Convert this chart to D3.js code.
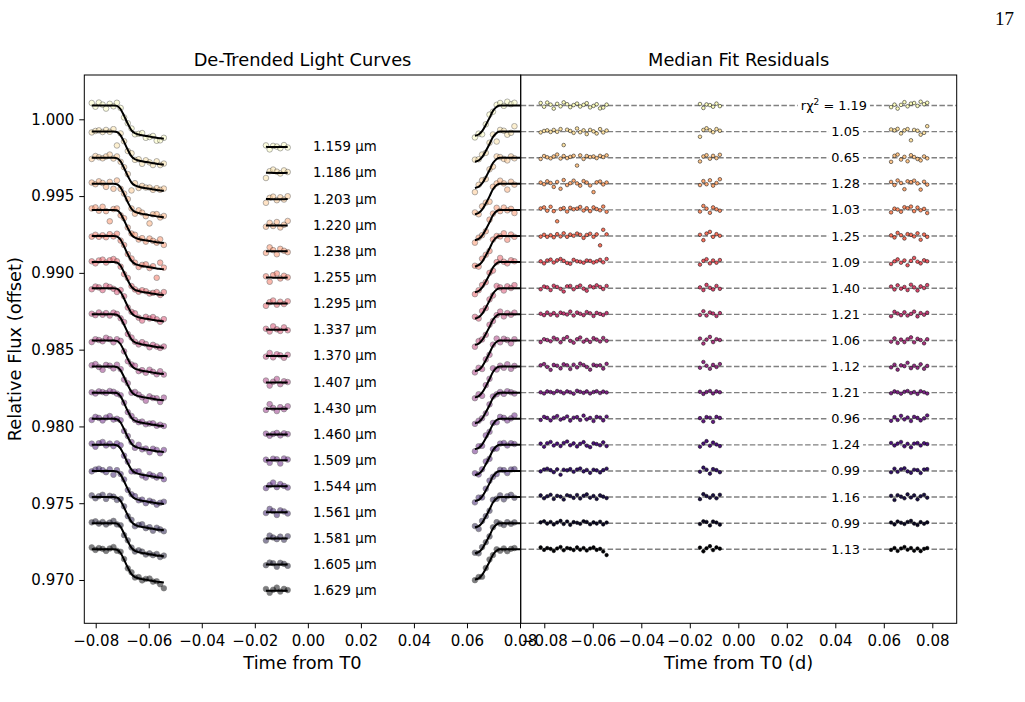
<!DOCTYPE html>
<html><head><meta charset="utf-8">
<script src="https://cdn.jsdelivr.net/npm/d3@7"></script>
<style>
body{margin:0;background:#fff}
svg text{fill:#000}
</style></head>
<body><svg id="chart" width="1025" height="702" font-family="DejaVu Sans"></svg>
<script>
// ---------------- data ----------------
const wavelengths = [1.159,1.186,1.203,1.220,1.238,1.255,1.295,1.337,1.370,1.407,1.430,1.460,1.509,1.544,1.561,1.581,1.605,1.629];
const redChi2 = [1.19,1.05,0.65,1.28,1.03,1.25,1.09,1.40,1.21,1.06,1.12,1.21,0.96,1.24,0.99,1.16,0.99,1.13];
const baselines = [1.00090,0.99920,0.99750,0.99580,0.99410,0.99240,0.99070,0.98900,0.98730,0.98560,0.98390,0.98220,0.98050,0.97880,0.97710,0.97540,0.97370,0.97200];
const depthsPpm = [2700,2690,2700,2720,2700,2710,2690,2700,2720,2740,2750,2730,2710,2700,2690,2700,2690,2700];

const timesIngress = [-0.0815,-0.0801,-0.0788,-0.0774,-0.0761,-0.0747,-0.0733,-0.0720,-0.0706,-0.0693,-0.0679,-0.0665,-0.0652,-0.0638,-0.0625,-0.0611,-0.0597,-0.0584,-0.0570,-0.0557,-0.0543];
const timesMid = [-0.0158,-0.0144,-0.0131,-0.0117,-0.0104,-0.0090,-0.0076];
const timesEgress = [0.0630,0.0644,0.0657,0.0671,0.0685,0.0698,0.0712,0.0725,0.0739,0.0752,0.0766,0.0779];

// transit model (fraction of depth) evaluated at the data times
const modelIngress = [0,0,0,0,0,0,0,0.01,0.09,0.25,0.44,0.60,0.67,0.70,0.72,0.735,0.75,0.765,0.78,0.79,0.80];
const modelMid = [0.998,0.999,1,1,1,1,0.999];
const modelEgress = [0.73,0.70,0.62,0.47,0.30,0.13,0.03,0,0,0,0,0];
const modelEgressEnd = [0.0810, 0];

// residuals (read in units of ~1.35 ppm): 21 ingress, 7 mid, 12 egress
const res1159 = [120,-60,140,40,-150,80,-40,150,60,-80,20,90,-50,30,110,-90,-20,60,-140,-100,40, 70,-120,50,20,-60,90,-30, -80,40,-150,30,160,-40,90,120,-20,180,60,130];
const res1186 = [-40,30,60,-20,80,-10,120,-650,90,30,-60,150,-30,60,-120,80,10,-90,120,-40,50, -250,80,160,60,-30,120,40, 100,60,130,-90,60,120,-420,80,40,-150,-60,260];
const res1203 = [-60,80,20,-30,60,150,-40,80,-20,40,90,-380,110,-60,80,30,60,-20,90,30,110, -180,60,120,-50,90,-20,140, -200,90,150,-90,40,-170,120,30,-60,-130,60,-30];
const res1220 = [60,-20,120,40,-150,90,-240,180,-60,30,150,20,-90,130,60,-80,-400,70,110,-30,60, -60,130,-20,170,-90,40,220, 90,-60,160,40,-260,120,80,150,20,-280,100,-40];
const res1238 = [70,120,-40,150,-60,-550,40,90,-80,100,30,60,140,-30,80,-60,120,40,-20,160,-90, -80,190,60,-140,120,30,-40, -120,60,20,-90,130,80,160,-60,110,-20,50,-150];
const res1255 = [-30,60,-40,40,-60,90,-20,130,-40,70,10,120,60,-90,50,110,-40,80,-450,300,80, 60,-200,120,200,-40,90,10, 30,-70,150,40,-120,90,60,-20,130,-180,70,-40];
const res1295 = [40,-60,80,120,-20,90,150,60,-40,-80,110,40,20,-30,80,60,-20,40,110,-10,150, -120,60,140,-60,80,-30,100, -90,40,130,-30,80,-150,60,200,20,-60,90,40];
const res1337 = [-50,80,40,-90,120,60,-30,-160,90,110,-50,60,130,-20,-120,90,40,140,60,-40,110, 40,-90,160,20,-60,110,-30, 80,-60,140,-20,60,-90,170,40,-110,90,10,150];
const res1370 = [30,-40,90,-20,60,-60,80,40,-10,130,-60,90,30,-40,110,50,-80,70,20,-30,60, -30,150,-60,90,40,-80,60, -90,120,40,-40,100,-60,20,130,-100,60,-20,80];
const res1407 = [-80,60,20,-40,130,60,-90,80,160,-20,-110,60,140,-60,30,-70,110,40,-50,120,-20, 90,-150,40,170,-80,60,20, -60,100,-120,40,-80,60,150,-90,80,20,-140,60];
const res1430 = [60,120,-20,-160,80,40,-90,110,60,-120,90,-40,140,70,-20,-150,90,40,60,-100,130, -60,220,40,-110,80,-20,120, -40,90,-150,60,20,180,-80,40,-60,110,-110,30];
const res1460 = [20,-40,60,30,-20,80,40,-30,60,20,-50,90,40,-10,60,-40,30,70,-20,50,10, 40,-60,30,80,-40,60,20, -30,60,20,-50,40,80,-20,30,-60,70,20,-40];
const res1509 = [-60,90,40,-80,60,130,-40,20,110,-90,50,80,-60,150,-30,40,-110,90,60,-80,100, 30,-120,80,50,-150,90,40, -100,80,-60,140,-30,60,-110,90,40,-80,20,160];
const res1544 = [60,-90,80,140,-30,60,-60,90,160,-20,70,-80,50,130,-40,-110,80,40,-20,120,-60, -90,60,180,-40,110,20,-60, 90,-30,60,140,-70,50,-120,60,90,-30,80,40];
const res1561 = [-20,70,110,40,-60,80,-180,60,30,90,-40,70,120,-20,50,-90,60,30,-70,40,110, -40,160,60,-130,90,40,-60, -60,110,-40,80,130,-20,-90,60,40,-100,70,90];
const res1581 = [80,-60,40,110,-90,60,20,-120,90,50,-40,100,-70,60,130,-30,50,-90,80,20,-50, -100,140,50,-30,90,-60,110, 60,-140,90,20,-60,130,-20,80,-110,40,110,-30];
const res1605 = [40,90,-20,60,-60,30,110,-40,80,-80,50,20,-30,90,60,-50,40,-20,70,-60,30, -40,90,60,-110,80,30,-70, 30,-60,80,20,-40,60,110,-20,-90,50,-30,40];
const res1629 = [90,-30,60,20,-80,40,110,-50,60,30,-40,90,-20,60,-60,40,90,-30,20,-110,-280, 80,-100,50,150,-40,90,30, -30,60,-80,40,110,-20,60,-70,40,-90,20,60];
const residualsRaw = [res1159,res1186,res1203,res1220,res1238,res1255,res1295,res1337,res1370,res1407,res1430,res1460,res1509,res1544,res1561,res1581,res1605,res1629];
const residualUnit = 1.35e-6;

const xTicks = [-0.08,-0.06,-0.04,-0.02,0.00,0.02,0.04,0.06,0.08];
const yTicks = [1.000,0.995,0.990,0.985,0.980,0.975,0.970];

// ---------------- layout ----------------
const svg = d3.select("#chart");
const pTop = 75, pBottom = 623.3, pLeft = 84.3, pMid = 520.7, pRight = 956.7;
const xL = d3.scaleLinear().domain([-0.0843, 0.08026]).range([pLeft, pMid]);
const xR = d3.scaleLinear().domain([-0.08973, 0.09006]).range([pMid, pRight]);
const y = d3.scaleLinear().domain([0.96718, 1.002885]).range([pBottom, pTop]);
const color = d3.scaleSequential(d3.interpolateMagma).domain([wavelengths.length - 1, 0]);

const defs = svg.append("defs");
defs.append("clipPath").attr("id","clipL")
  .append("rect").attr("x",pLeft).attr("y",pTop).attr("width",pMid-pLeft).attr("height",pBottom-pTop);
defs.append("clipPath").attr("id","clipR")
  .append("rect").attr("x",pMid).attr("y",pTop).attr("width",pRight-pMid).attr("height",pBottom-pTop);

const segs = [
  {t: timesIngress, m: modelIngress, off: 0},
  {t: timesMid, m: modelMid, off: timesIngress.length},
  {t: timesEgress, m: modelEgress, off: timesIngress.length + timesMid.length}
];

const gL = svg.append("g").attr("clip-path","url(#clipL)");
const gR = svg.append("g").attr("clip-path","url(#clipR)");
const lineGen = d3.line().x(d => xL(d[0])).y(d => y(d[1])).curve(d3.curveMonotoneX);

wavelengths.forEach((w, i) => {
  const base = baselines[i], dep = depthsPpm[i] * 1e-6, res = residualsRaw[i];
  const c = color(i);
  // left panel points
  segs.forEach(s => {
    gL.append("g").selectAll("circle").data(s.t).join("circle")
      .attr("cx", t => xL(t))
      .attr("cy", (t, k) => y(base - dep * s.m[k] + res[s.off + k] * residualUnit))
      .attr("r", 2.8)
      .attr("fill", c).attr("stroke", "#000").attr("stroke-width", 0.6)
      .attr("opacity", 0.5);
  });
  // model lines
  segs.forEach((s, si) => {
    const pts = s.t.map((t, k) => [t, base - dep * s.m[k]]);
    if (si === 2) pts.push([modelEgressEnd[0], base - dep * modelEgressEnd[1]]);
    gL.append("path").attr("d", lineGen(pts))
      .attr("fill","none").attr("stroke","#000").attr("stroke-width",2);
  });
  // wavelength label
  const midLevel = base - dep * modelMid[3];
  svg.append("text").attr("x", xL(0.0019)).attr("y", y(midLevel)).attr("dy","0.33em")
    .attr("font-size","13.3px").text(d3.format(".3f")(w) + " µm");

  // right panel: dashed zero line
  gR.append("line").attr("x1", pMid).attr("x2", pRight).attr("y1", y(base)).attr("y2", y(base))
    .attr("stroke","#808080").attr("stroke-width",1.4).attr("stroke-dasharray","5.5,2.4");
  segs.forEach(s => {
    gR.append("g").selectAll("circle").data(s.t).join("circle")
      .attr("cx", t => xR(t))
      .attr("cy", (t, k) => y(base + res[s.off + k] * residualUnit))
      .attr("r", 1.8)
      .attr("fill", c).attr("stroke", "#000").attr("stroke-width", 0.5);
  });
  // chi2 label
  const lab = svg.append("g");
  const tx = lab.append("text").attr("text-anchor","end")
    .attr("x", xR(0.0502) + (i === 0 ? 7 : 0)).attr("y", y(base)).attr("dy","0.35em")
    .attr("font-size","12.9px");
  if (i === 0) {
    tx.append("tspan").text("rχ");
    tx.append("tspan").attr("font-size","9px").attr("dy","-0.55em").text("2");
    tx.append("tspan").attr("dy","0.39em").text(" = " + d3.format(".2f")(redChi2[i]));
  } else {
    tx.text(d3.format(".2f")(redChi2[i]));
  }
  const bb = tx.node().getBBox();
  lab.insert("rect","text").attr("x", bb.x - 3).attr("y", y(base) - 5)
    .attr("width", bb.width + 6).attr("height", 10).attr("fill","#fff");
});

// axes
const fmtX = d3.format(".2f");
const axL = svg.append("g").attr("transform",`translate(0,${pBottom})`)
  .call(d3.axisBottom(xL).tickValues(xTicks).tickFormat(fmtX).tickSize(5).tickPadding(7).tickSizeOuter(0));
const axR = svg.append("g").attr("transform",`translate(0,${pBottom})`)
  .call(d3.axisBottom(xR).tickValues(xTicks).tickFormat(fmtX).tickSize(5).tickPadding(7).tickSizeOuter(0));
const axY = svg.append("g").attr("transform",`translate(${pLeft},0)`)
  .call(d3.axisLeft(y).tickValues(yTicks).tickFormat(d3.format(".3f")).tickSize(5).tickPadding(5).tickSizeOuter(0));
[axL, axR, axY].forEach(a => {
  a.attr("font-family","DejaVu Sans").attr("font-size","15px");
  a.select(".domain").remove();
  a.selectAll("text").attr("fill","#000");
  a.selectAll("line").attr("stroke","#000").attr("stroke-width",1);
});

// spines
svg.append("rect").attr("x",pLeft).attr("y",pTop).attr("width",pMid-pLeft).attr("height",pBottom-pTop)
  .attr("fill","none").attr("stroke","#000").attr("stroke-width",1);
svg.append("rect").attr("x",pMid).attr("y",pTop).attr("width",pRight-pMid).attr("height",pBottom-pTop)
  .attr("fill","none").attr("stroke","#000").attr("stroke-width",1);

// titles and labels
svg.append("text").attr("x",(pLeft+pMid)/2).attr("y",66).attr("text-anchor","middle")
  .attr("font-size","17.8px").text("De-Trended Light Curves");
svg.append("text").attr("x",(pMid+pRight)/2).attr("y",66).attr("text-anchor","middle")
  .attr("font-size","17.8px").text("Median Fit Residuals");
svg.append("text").attr("x",(pLeft+pMid)/2).attr("y",669).attr("text-anchor","middle")
  .attr("font-size","17.8px").text("Time from T0");
svg.append("text").attr("x",(pMid+pRight)/2).attr("y",669).attr("text-anchor","middle")
  .attr("font-size","17.8px").text("Time from T0 (d)");
svg.append("text").attr("transform",`translate(21,${(pTop+pBottom)/2}) rotate(-90)`).attr("text-anchor","middle")
  .attr("font-size","17.8px").text("Relative Flux (offset)");
svg.append("text").attr("x",1014).attr("y",25).attr("text-anchor","end")
  .attr("font-family","Liberation Serif").attr("font-size","19px").text("17");
</script></body></html>
